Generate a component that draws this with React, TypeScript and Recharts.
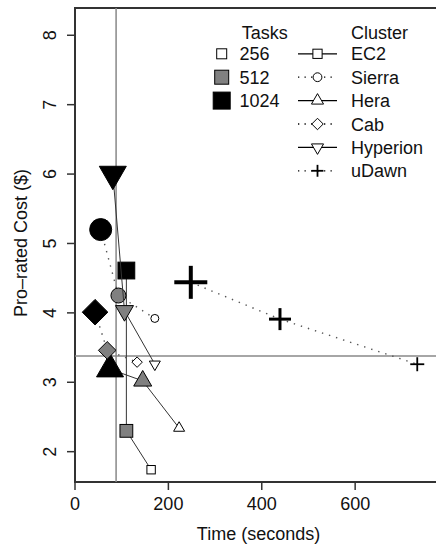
import React from 'react';
import { ScatterChart, Scatter, XAxis, YAxis, ReferenceLine, ReferenceArea } from 'recharts';

const clusterNames = ['EC2', 'Sierra', 'Hera', 'Cab', 'Hyperion', 'uDawn'];
const clusterSymbols = ['square', 'circle', 'triUp', 'diamond', 'triDown', 'plus'];
const clusterDotted = [false, true, false, true, false, true];
const taskSizes = [1024, 512, 256];
const legendTasks = [256, 512, 1024];

const ec2Time = [110, 110, 163];
const ec2Cost = [4.61, 2.3, 1.74];
const sierraTime = [55, 93, 171];
const sierraCost = [5.2, 4.25, 3.92];
const heraTime = [75, 145, 223];
const heraCost = [3.19, 3.02, 2.34];
const cabTime = [43, 69, 133];
const cabCost = [4.01, 3.46, 3.29];
const hyperionTime = [81, 106, 171];
const hyperionCost = [6.0, 4.03, 3.26];
const udawnTime = [248, 439, 733];
const udawnCost = [4.44, 3.91, 3.26];

const xTicks = [0, 200, 400, 600];
const yTicks = [2, 3, 4, 5, 6, 7, 8];
const xDomain = [0, 786];
const yDomain = [1.563, 8.393];
const refTime = 88;
const refCost = 3.38;

const allTimes = [ec2Time, sierraTime, heraTime, cabTime, hyperionTime, udawnTime];
const allCosts = [ec2Cost, sierraCost, heraCost, cabCost, hyperionCost, udawnCost];

const series = clusterNames.map((name, i) => ({
  name,
  symbol: clusterSymbols[i],
  dotted: clusterDotted[i],
  data: taskSizes.map((t, j) => ({ time: allTimes[i][j], cost: allCosts[i][j], tasks: t, symbol: clusterSymbols[i] })),
}));

const FONT = '"Liberation Sans", Arial, Helvetica, sans-serif';

function sizeIdx(tasks: number) {
  return tasks === 256 ? 0 : tasks === 512 ? 1 : 2;
}
const fills = ['#ffffff', '#808080', '#000000'];

function drawSymbol(symbol: string, cx: number, cy: number, k: number, fill: string, scale = 1) {
  const sw = 1;
  if (symbol === 'circle') {
    const r = [4, 7.5, 11][k] * scale;
    return <circle cx={cx} cy={cy} r={r} fill={fill} stroke="#000" strokeWidth={sw} />;
  }
  if (symbol === 'square') {
    const h = [4.2, 6.4, 8.4][k] * scale;
    return <rect x={cx - h} y={cy - h} width={2 * h} height={2 * h} fill={fill} stroke="#000" strokeWidth={sw} />;
  }
  if (symbol === 'triUp' || symbol === 'triDown') {
    const w = [11, 18, 27][k] * scale;
    const r = w / Math.sqrt(3);
    const s = symbol === 'triUp' ? 1 : -1;
    const pts = `${cx},${cy - s * r} ${cx + w / 2},${cy + s * r / 2} ${cx - w / 2},${cy + s * r / 2}`;
    return <polygon points={pts} fill={fill} stroke="#000" strokeWidth={sw} strokeLinejoin="miter" />;
  }
  if (symbol === 'diamond') {
    const h = [5.2, 8.8, 12.8][k] * scale;
    const pts = `${cx},${cy - h} ${cx + h},${cy} ${cx},${cy + h} ${cx - h},${cy}`;
    return <polygon points={pts} fill={fill} stroke="#000" strokeWidth={sw} />;
  }
  const h = [7, 11, 16.5][k] * scale;
  const w = [1.8, 3, 4][k];
  return (
    <g>
      <line x1={cx - h} y1={cy} x2={cx + h} y2={cy} stroke="#000" strokeWidth={w} />
      <line x1={cx} y1={cy - h} x2={cx} y2={cy + h} stroke="#000" strokeWidth={w} />
    </g>
  );
}

function Marker(props: any) {
  const { cx, cy, payload } = props;
  if (cx == null || cy == null || !payload) return <g />;
  const k = sizeIdx(payload.tasks);
  return drawSymbol(payload.symbol, cx, cy, k, fills[k]);
}

function XTick(props: any) {
  const { x, y, payload } = props;
  return (
    <text x={x} y={y + 18} textAnchor="middle" fontSize={18} fontFamily={FONT} fill="#111">
      {payload.value}
    </text>
  );
}

function YTick(props: any) {
  const { x, y, payload } = props;
  const bx = x - 9;
  return (
    <text x={bx} y={y} textAnchor="middle" fontSize={18} fontFamily={FONT} fill="#111" transform={`rotate(-90, ${bx}, ${y})`}>
      {payload.value}
    </text>
  );
}

function Legend() {
  const rows = [60.3, 83.7, 107.1, 130.5, 153.9, 177.3];
  const taskSq = [5, 7, 8.5];
  return (
    <svg width={436} height={545} style={{ position: 'absolute', left: 0, top: 0, pointerEvents: 'none' }}>
      <g fontFamily={FONT} fontSize={18} fill="#111">
        <text x={241.7} y={39}>Tasks</text>
        <text x={351} y={39}>Cluster</text>
        {legendTasks.map((t, i) => {
          const cy = rows[i] - 6.5;
          const h = taskSq[i];
          return (
            <g key={t}>
              <rect x={221.7 - h} y={cy - h} width={2 * h} height={2 * h} fill={fills[i]} stroke="#000" strokeWidth={1} />
              <text x={239.5} y={rows[i]}>{t}</text>
            </g>
          );
        })}
        {clusterNames.map((name, i) => {
          const cy = rows[i] - 6.5;
          return (
            <g key={name}>
              <line
                x1={298}
                x2={337}
                y1={cy}
                y2={cy}
                stroke="#000"
                strokeWidth={clusterDotted[i] ? 1.3 : 1.3}
                strokeDasharray={clusterDotted[i] ? '1.3 5.2' : undefined}
              />
              {clusterSymbols[i] === 'plus'
                ? drawSymbol('plus', 317.5, cy, 0, '#fff', 0.85)
                : drawSymbol(clusterSymbols[i], 317.5, cy, 0, '#fff', 1.1)}
              <text x={351} y={rows[i]}>{name}</text>
            </g>
          );
        })}
      </g>
    </svg>
  );
}

export default function App() {
  return (
    <div style={{ position: 'absolute', left: 0, top: 0, width: 436, height: 545, overflow: 'hidden', background: '#fff' }}>
      <ScatterChart width={446} height={545} margin={{ top: 8, right: 4, bottom: 0, left: 8 }}>
        <XAxis
          type="number"
          dataKey="time"
          domain={xDomain}
          ticks={xTicks}
          allowDataOverflow
          axisLine={false}
          tickLine={{ stroke: '#333', strokeWidth: 1.5 }}
          tickSize={8}
          height={63}
          tick={<XTick />}
          label={{
            content: (p: any) => {
              const vb = p.viewBox || { x: 75, width: 367, y: 482 };
              return (
                <text x={vb.x + vb.width / 2} y={539.5} textAnchor="middle" fontSize={18} fontFamily={FONT} fill="#111">
                  Time (seconds)
                </text>
              );
            },
          }}
        />
        <YAxis
          type="number"
          dataKey="cost"
          domain={yDomain}
          ticks={yTicks}
          allowDataOverflow
          axisLine={false}
          tickLine={{ stroke: '#333', strokeWidth: 1.5 }}
          tickSize={8}
          width={67}
          tick={<YTick />}
          label={{
            content: () => (
              <text x={27} y={243} textAnchor="middle" fontSize={18} fontFamily={FONT} fill="#111" transform="rotate(-90, 27, 243)">
                Pro–rated Cost ($)
              </text>
            ),
          }}
        />
        <ReferenceArea x1={xDomain[0]} x2={xDomain[1]} y1={yDomain[0]} y2={yDomain[1]} fill="none" fillOpacity={0} stroke="#333" strokeWidth={2} />
        {series.map((s) => (
          <Scatter
            key={s.name}
            name={s.name}
            data={s.data}
            isAnimationActive={false}
            line={{ stroke: s.dotted ? '#555' : '#333', strokeWidth: s.dotted ? 1.4 : 1, strokeDasharray: s.dotted ? '1.4 6' : undefined }}
            lineType="joint"
            shape={<Marker />}
          />
        ))}
        <ReferenceLine x={refTime} stroke="#888" strokeWidth={1.5} />
        <ReferenceLine y={refCost} stroke="#888" strokeWidth={1.5} />
      </ScatterChart>
      <Legend />
    </div>
  );
}
